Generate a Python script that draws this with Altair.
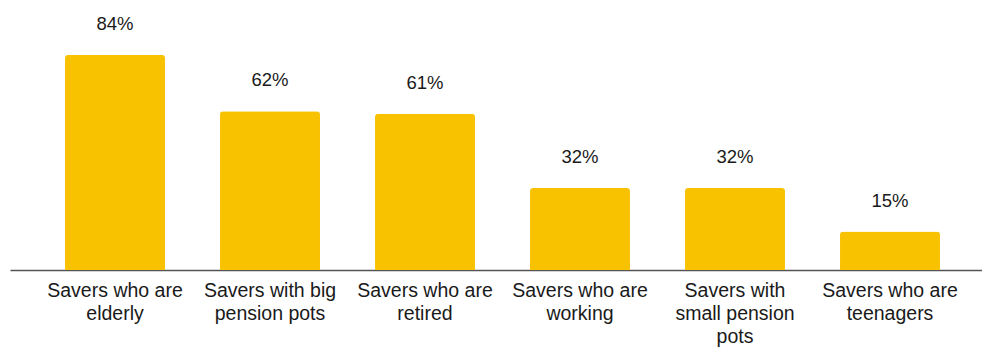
import altair as alt
import pandas as pd

categories = [
    "Savers who are\nelderly",
    "Savers with big\npension pots",
    "Savers who are\nretired",
    "Savers who are\nworking",
    "Savers with\nsmall pension\npots",
    "Savers who are\nteenagers",
]
values = [84, 62, 61, 32, 32, 15]
labels = ["84%", "62%", "61%", "32%", "32%", "15%"]

df = pd.DataFrame({"cat": categories, "val": values, "lab": labels})

FONT = "Liberation Sans"

x = alt.X(
    "cat:N",
    sort=None,
    scale=alt.Scale(paddingInner=0.355, paddingOuter=0.313, align=0.567),
    axis=alt.Axis(
        title=None,
        ticks=False,
        domainColor="#555555",
        domainWidth=1.5,
        labelAngle=0,
        labelFont=FONT,
        labelFontSize=19.5,
        labelColor="#1a1a1a",
        labelLimit=300,
        labelPadding=11,
        labelLineHeight=23,
        labelBaseline="top",
        labelExpr="split(datum.label, '\\n')",
    ),
)
y = alt.Y("val:Q", scale=alt.Scale(domain=[0, 100]), axis=None)

bars = alt.Chart(df).mark_bar(
    color="#F8C200", cornerRadiusTopLeft=3, cornerRadiusTopRight=3
).encode(x=x, y=y)

text = alt.Chart(df).mark_text(
    font=FONT, fontSize=18.5, color="#1a1a1a", dy=-25, baseline="alphabetic"
).encode(x=x, y=y, text="lab:N")

chart = (
    alt.layer(bars, text)
    .properties(
        width=972,
        height=256,
        autosize=alt.AutoSizeParams(type="none"),
        padding={"left": 10, "top": 14, "right": 0, "bottom": 77},
        background="white",
    )
    .configure_view(stroke=None)
)

chart.save("out.html", embed_options={"renderer": "svg", "actions": False})
